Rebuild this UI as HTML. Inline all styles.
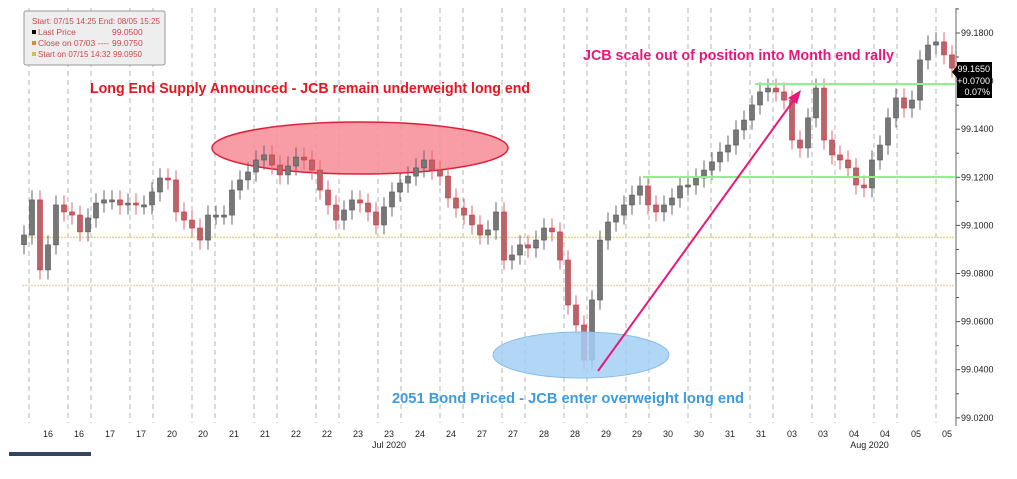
<!DOCTYPE html>
<html><head><meta charset="utf-8"><style>
html,body{margin:0;padding:0;background:#fff;}
svg{display:block;font-family:"Liberation Sans",sans-serif;}
</style></head><body>
<svg id="chart" width="1017" height="479" viewBox="0 0 1017 479">
<rect x="0" y="0" width="1017" height="479" fill="#fff"/>
<g id="grid"></g>
<g id="refs"></g>
<ellipse cx="360" cy="148" rx="148" ry="26" fill="#f7919b" fill-opacity="0.9" stroke="#e0203a" stroke-width="1.5"/>
<g id="candles"></g>
<ellipse cx="581" cy="355" rx="88" ry="23" fill="#a3cff4" fill-opacity="0.85" stroke="#86bdea" stroke-width="1"/>
<line x1="755" y1="84" x2="955" y2="84" stroke="#8ff08f" stroke-width="2"/>
<line x1="643" y1="177" x2="955" y2="177" stroke="#8ff08f" stroke-width="2"/>
<line x1="598" y1="371" x2="796" y2="97" stroke="#e8177a" stroke-width="2"/>
<polygon points="801,90 788,98 797,104" fill="#e8177a"/>
<text x="90" y="93" font-size="15" font-weight="bold" fill="#e8141e" textLength="440" lengthAdjust="spacingAndGlyphs">Long End Supply Announced - JCB remain underweight long end</text>
<text x="583" y="60" font-size="15" font-weight="bold" fill="#e8177a" textLength="311" lengthAdjust="spacingAndGlyphs">JCB scale out of position into Month end rally</text>
<text x="392" y="403" font-size="15" font-weight="bold" fill="#3d9be0" textLength="352" lengthAdjust="spacingAndGlyphs">2051 Bond Priced - JCB enter overweight long end</text>
<g id="axis"></g>
<g id="xaxis"></g>
<g>
<polygon points="952,72 957,66 957,78" fill="#000"/>
<rect x="957" y="62" width="35" height="36" fill="#000"/>
<text x="990" y="72" font-size="9" fill="#fff" text-anchor="end">99.1650</text>
<text x="990" y="84" font-size="9" fill="#fff" text-anchor="end">+0.0700</text>
<text x="990" y="95" font-size="9" fill="#fff" text-anchor="end">0.07%</text>
</g>
<g>
<rect x="24" y="11" width="141" height="54" rx="2" fill="#eeeeee" stroke="#9a9a9a" stroke-width="1"/>
<text x="32" y="24" font-size="8.5" fill="#c8484e" textLength="128" lengthAdjust="spacingAndGlyphs">Start: 07/15 14:25 End: 08/05 15:25</text>
<rect x="32" y="30" width="4" height="4" fill="#000"/>
<text x="38" y="35" font-size="8.5" fill="#c8484e">Last Price</text><text x="112" y="35" font-size="8.5" fill="#c8484e">99.0500</text>
<rect x="32" y="41" width="4" height="4" fill="#e08a30"/>
<text x="38" y="46" font-size="8.5" fill="#c8484e">Close on 07/03 ----</text><text x="112" y="46" font-size="8.5" fill="#c8484e">99.0750</text>
<rect x="32" y="52" width="4" height="4" fill="#d8c040"/>
<text x="38" y="57" font-size="8.5" fill="#c8484e" textLength="104" lengthAdjust="spacingAndGlyphs">Start on 07/15 14:32 99.0950</text>
</g>
<rect x="9" y="452" width="82" height="4" fill="#34445e"/>
<script>
const closes=[99.0960,99.1106,99.0815,99.0919,99.1085,99.1056,99.1043,99.0973,99.1031,99.1093,
99.1106,99.1106,99.1085,99.1093,99.1085,99.1085,99.1139,99.1197,99.1189,99.1056,
99.1022,99.0989,99.0939,99.1043,99.1043,99.1043,99.1147,99.1189,99.1222,99.1272,
99.1293,99.1251,99.1210,99.1247,99.1284,99.1272,99.1230,99.1147,99.1085,99.1022,
99.1064,99.1106,99.1093,99.1056,99.1002,99.1077,99.1139,99.1176,99.1205,99.1239,
99.1272,99.1230,99.1205,99.1114,99.1072,99.1043,99.1002,99.0960,99.0981,99.1056,
99.0856,99.0877,99.0919,99.0906,99.0939,99.0989,99.0973,99.0856,99.0669,99.0586,
99.0440,99.0690,99.0939,99.1014,99.1043,99.1085,99.1126,99.1164,99.1085,99.1056,
99.1085,99.1114,99.1164,99.1168,99.1197,99.1230,99.1264,99.1305,99.1334,99.1397,
99.1438,99.1501,99.1555,99.1571,99.1555,99.1521,99.1355,99.1322,99.1447,99.1571,
99.1355,99.1293,99.1272,99.1239,99.1168,99.1156,99.1272,99.1334,99.1447,99.1530,
99.1488,99.1521,99.1688,99.1750,99.1763,99.1709,99.1654];
const yTicks=[99.18,99.16,99.14,99.12,99.10,99.08,99.06,99.04,99.02];
const xLabels=["16","16","17","17","20","20","21","21","22","22","23","23","24","24","27","27","28","28","29","29","30","30","31","31","03","03","04","04","05","05"];
const monthLabels=["Jul 2020","Aug 2020"];
const monthLabelIdx=[11,26.5];
const refLevels=[99.095,99.075];
const NS="http://www.w3.org/2000/svg";
function yS(v){return 33+(99.18-v)*2405;}
function xS(i){return 24+i*(928/(closes.length-1));}
function lx(i){return 48+i*(899/(xLabels.length-1));}
function mk(tag,attrs,parent){const e=document.createElementNS(NS,tag);for(const k in attrs)e.setAttribute(k,attrs[k]);parent.appendChild(e);return e;}
const grid=document.getElementById('grid');
for(let k=0;k<16;k++){
 [29+62*k,68+62*k].forEach(x=>{ if(x<955){
  const l=mk('line',{x1:x,y1:8,x2:x,y2:423,stroke:'#b5b5b5','stroke-width':1,'stroke-dasharray':'5,4'},grid);
  
  
 }});
}
const refs=document.getElementById('refs');
const refCols=['#e2d985','#efd2b5'];
refLevels.forEach((v,i)=>{
 const l=mk('line',{x1:22,y1:yS(v),x2:955,y2:yS(v),stroke:refCols[i],'stroke-width':1.5,'stroke-dasharray':'2,1'},refs);
 
 
});
const cg=document.getElementById('candles');
closes.forEach((c,i)=>{
 const o=i==0?c-0.004:closes[i-1];
 const hi=Math.max(o,c)+0.004, lo=Math.min(o,c)-0.004;
 const x=xS(i);
 const up=c>=o;
 const w=mk('line',{x1:x,y1:yS(hi),x2:x,y2:yS(lo),stroke:up?'#666':'#d86a72','stroke-width':1},cg);
 
 
 const top=yS(Math.max(o,c)), h=Math.max(2,Math.abs(yS(o)-yS(c)));
 const b=mk('rect',{x:x-2.5,y:top,width:5,height:h,fill:up?'#777':'#b8646b',stroke:up?'#555':'#d0303c','stroke-width':0.6},cg);
 
 
});
const ax=document.getElementById('axis');
mk('line',{x1:956,y1:8,x2:956,y2:426,stroke:'#666','stroke-width':1},ax);
for(let v=99.02;v<=99.1901;v+=0.01){
 const major=Math.abs(Math.round(v*100)%2)==0;
 mk('line',{x1:956,y1:yS(v),x2:major?960:959,y2:yS(v),stroke:'#555','stroke-width':1},ax);
}
yTicks.forEach(v=>{
 const t=mk('text',{x:961,y:yS(v)+3,'font-size':9,fill:'#222'},ax);
 t.textContent=v.toFixed(4);
 
 
});
const xa=document.getElementById('xaxis');
xLabels.forEach((s,i)=>{
 const t=mk('text',{x:lx(i),y:437,'font-size':9,fill:'#222','text-anchor':'middle'},xa);
 t.textContent=s;
 
 
});
monthLabels.forEach((s,i)=>{
 const t=mk('text',{x:lx(monthLabelIdx[i]),y:448,'font-size':9,fill:'#222','text-anchor':'middle'},xa);
 t.textContent=s;
 
 
});
</script>
</svg>
</body></html>
